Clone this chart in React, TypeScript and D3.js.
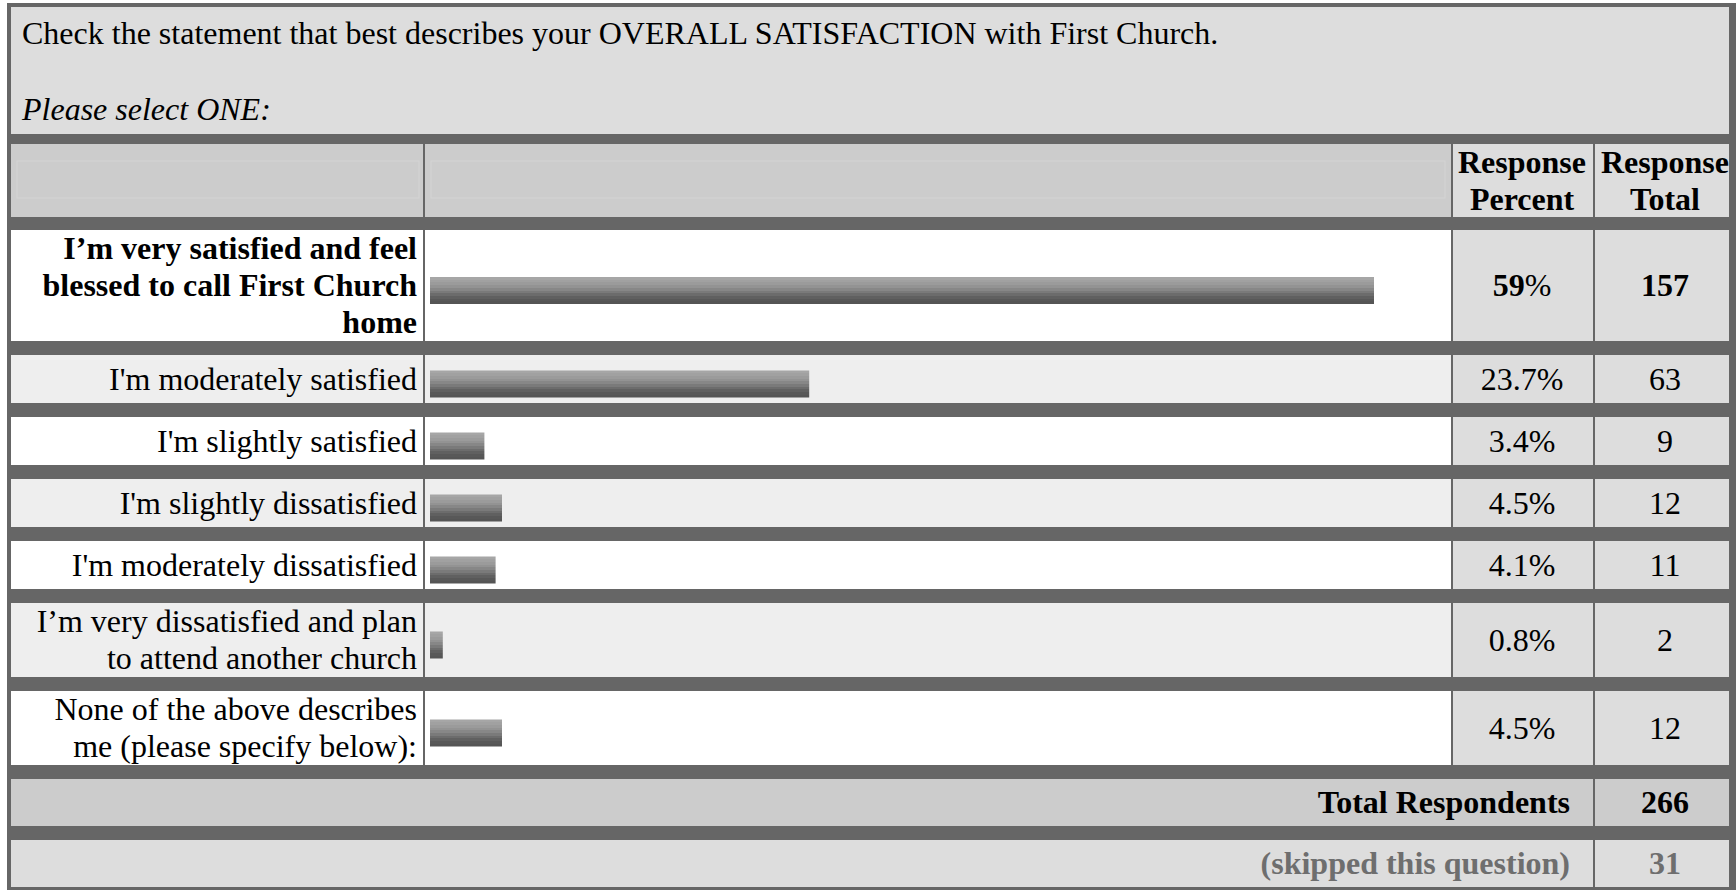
import React from "react";
import * as d3 from "d3";

// ---------- data ----------
const questionText =
  "Check the statement that best describes your OVERALL SATISFACTION with First Church.";
const instructionText = "Please select ONE:";
const columnHeaders = [
  ["Response", "Percent"],
  ["Response", "Total"],
];
const answerLabels = [
  ["I’m very satisfied and feel", "blessed to call First Church", "home"],
  ["I'm moderately satisfied"],
  ["I'm slightly satisfied"],
  ["I'm slightly dissatisfied"],
  ["I'm moderately dissatisfied"],
  ["I’m very dissatisfied and plan", "to attend another church"],
  ["None of the above describes", "me (please specify below):"],
];
const boldAnswer = [true, false, false, false, false, false, false];
const responsePercents = [59, 23.7, 3.4, 4.5, 4.1, 0.8, 4.5];
const responseTotals = [157, 63, 9, 12, 11, 2, 12];
const totalLabel = "Total Respondents";
const totalRespondents = 266;
const skippedLabel = "(skipped this question)";
const skippedCount = 31;

// ---------- layout ----------
const W = 1736;
const H = 890;
const FONT = "'Liberation Serif', 'Times New Roman', serif";
const FS = 32;
const LH = 37;
const DARK = "#666666";

const outerLeft = 7;
const outerTop = 3;
const border = 4;
const innerLeft = outerLeft + border; // 11
const colLabel = [innerLeft, 423];
const colBar = [425, 1451];
const colPct = [1453, 1593];
const colTot = [1595, 1729];
const pctCenter = 1522;
const totCenter = 1665;
const labelRight = 417;
const totalTextRight = 1570;

const headerH = 127;
const colHeadH = 73;
const gapHead = 10;
const gapColHead = 13;
const gapRow = 14;
const minRowH = 48;
const summaryH = 47;
const barH = 27;
const barOffset = 5;

const barColors = [
  "#a6a6a6",
  "#a1a1a1",
  "#9b9b9b",
  "#939393",
  "#878787",
  "#7a7a7a",
  "#6c6c6c",
  "#606060",
  "#585858",
  "#555555",
];

export default function App() {
  // vertical layout
  const headerTop = outerTop + border;
  const colHeadTop = headerTop + headerH + gapHead;
  let y = colHeadTop + colHeadH + gapColHead;
  const rows = answerLabels.map((lines, i) => {
    const h = Math.max(minRowH, lines.length * LH);
    const r = { top: y, h, i };
    y += h + gapRow;
    return r;
  });
  const totalTop = y;
  const skippedTop = totalTop + summaryH + gapRow;

  const x = d3.scaleLinear().domain([0, 100]).range([colBar[0] + 5, colBar[0] + 5 + 1600]);

  const singleBaseline = (top: number, h: number) => top + h / 2 + 10.5;
  const multiBaselines = (top: number, h: number, n: number) => {
    const t = top + h / 2 - (n * LH) / 2;
    return d3.range(n).map((k) => t + k * LH + 29);
  };

  const n = barColors.length;

  return (
    <svg
      width={W}
      height={H}
      style={{ position: "absolute", left: 0, top: 0, display: "block" }}
      fontFamily={FONT}
      fontSize={FS}
    >
      <defs>
        <linearGradient id="barGrad" x1="0" y1="0" x2="0" y2="1">
          {barColors.map((c, k) => (
            <React.Fragment key={k}>
              <stop offset={k / n} stopColor={c} />
              <stop offset={(k + 1) / n} stopColor={c} />
            </React.Fragment>
          ))}
        </linearGradient>
      </defs>
      <rect x={0} y={0} width={W} height={H} fill="#ffffff" />
      <rect x={outerLeft} y={outerTop} width={W - outerLeft} height={H - outerTop} fill={DARK} />

      {/* question header */}
      <rect x={innerLeft} y={headerTop} width={colTot[1] - innerLeft} height={headerH} fill="#dddddd" />
      <text x={22} y={44} fill="#000">{questionText}</text>
      <text x={22} y={120} fill="#000" fontStyle="italic">{instructionText}</text>

      {/* column headers */}
      <rect x={colLabel[0]} y={colHeadTop} width={colLabel[1] - colLabel[0]} height={colHeadH} fill="#cccccc" />
      <rect x={colBar[0]} y={colHeadTop} width={colBar[1] - colBar[0]} height={colHeadH} fill="#cccccc" />
      <rect x={colPct[0]} y={colHeadTop} width={colPct[1] - colPct[0]} height={colHeadH} fill="#dddddd" />
      <rect x={colTot[0]} y={colHeadTop} width={colTot[1] - colTot[0]} height={colHeadH} fill="#dddddd" />
      <rect x={17} y={161} width={402} height={37} fill="none" stroke="#d4d4d4" strokeWidth={1} />
      <rect x={431} y={161} width={1014} height={37} fill="none" stroke="#d4d4d4" strokeWidth={1} />
      {columnHeaders.map((lines, c) => {
        const cx = c === 0 ? pctCenter : totCenter;
        return multiBaselines(colHeadTop, colHeadH, lines.length).map((by, k) => (
          <text key={`h${c}${k}`} x={cx} y={by} textAnchor="middle" fontWeight="bold">
            {lines[k]}
          </text>
        ));
      })}

      {/* answer rows */}
      {rows.map((r) => {
        const lines = answerLabels[r.i];
        const bg = r.i % 2 === 0 ? "#ffffff" : "#eeeeee";
        const bold = boldAnswer[r.i];
        const baselines =
          lines.length === 1 ? [singleBaseline(r.top, r.h)] : multiBaselines(r.top, r.h, lines.length);
        const vb = singleBaseline(r.top, r.h);
        const p = responsePercents[r.i];
        const cy = r.top + r.h / 2 + barOffset;
        return (
          <g key={r.i}>
            <rect x={colLabel[0]} y={r.top} width={colLabel[1] - colLabel[0]} height={r.h} fill={bg} />
            <rect x={colBar[0]} y={r.top} width={colBar[1] - colBar[0]} height={r.h} fill={bg} />
            <rect x={colPct[0]} y={r.top} width={colPct[1] - colPct[0]} height={r.h} fill="#dddddd" />
            <rect x={colTot[0]} y={r.top} width={colTot[1] - colTot[0]} height={r.h} fill="#dddddd" />
            {lines.map((t, k) => (
              <text key={k} x={labelRight} y={baselines[k]} textAnchor="end" fontWeight={bold ? "bold" : "normal"}>
                {t}
              </text>
            ))}
            <rect
              x={x(0)}
              y={cy - barH / 2}
              width={Math.max(2, x(p) - x(0))}
              height={barH}
              fill="url(#barGrad)"
            />
            <text x={pctCenter} y={vb} textAnchor="middle">
              <tspan fontWeight={bold ? "bold" : "normal"}>{`${p}`}</tspan>
              <tspan>%</tspan>
            </text>
            <text x={totCenter} y={vb} textAnchor="middle" fontWeight={bold ? "bold" : "normal"}>
              {responseTotals[r.i]}
            </text>
          </g>
        );
      })}

      {/* summary rows */}
      <rect x={innerLeft} y={totalTop} width={colPct[1] - innerLeft} height={summaryH} fill="#cccccc" />
      <rect x={colTot[0]} y={totalTop} width={colTot[1] - colTot[0]} height={summaryH} fill="#cccccc" />
      <text x={totalTextRight} y={singleBaseline(totalTop, summaryH)} textAnchor="end" fontWeight="bold">
        {totalLabel}
      </text>
      <text x={totCenter} y={singleBaseline(totalTop, summaryH)} textAnchor="middle" fontWeight="bold">
        {totalRespondents}
      </text>

      <rect x={innerLeft} y={skippedTop} width={colPct[1] - innerLeft} height={summaryH} fill="#dddddd" />
      <rect x={colTot[0]} y={skippedTop} width={colTot[1] - colTot[0]} height={summaryH} fill="#dddddd" />
      <text
        x={totalTextRight}
        y={singleBaseline(skippedTop, summaryH)}
        textAnchor="end"
        fontWeight="bold"
        fill="#6e6e6e"
      >
        {skippedLabel}
      </text>
      <text
        x={totCenter}
        y={singleBaseline(skippedTop, summaryH)}
        textAnchor="middle"
        fontWeight="bold"
        fill="#6e6e6e"
      >
        {skippedCount}
      </text>
    </svg>
  );
}
